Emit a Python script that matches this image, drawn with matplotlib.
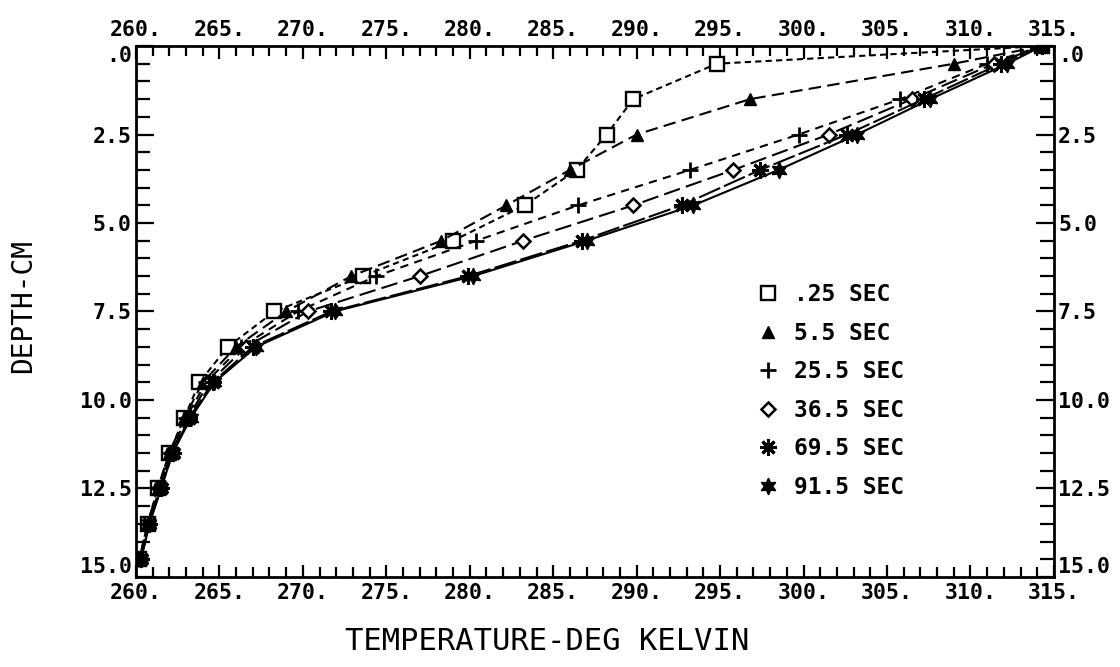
import matplotlib
matplotlib.use("Agg")
import matplotlib.pyplot as plt
from matplotlib.ticker import MultipleLocator, FixedLocator

# ---------------------------------------------------
# DATA
# ---------------------------------------------------
depth = [0.0, 0.5, 1.5, 2.5, 3.5, 4.5, 5.5, 6.5, 7.5,
         8.5, 9.5, 10.5, 11.5, 12.5, 13.5, 14.5]

t_025 = [314.3, 294.8, 289.8, 288.2, 286.4, 283.3, 279.0, 273.6, 268.3,
         265.5, 263.8, 262.9, 262.0, 261.3, 260.7, 260.2]
t_55 = [314.3, 309.0, 296.8, 290.0, 286.0, 282.2, 278.3, 272.9, 269.0,
        266.0, 264.0, 262.9, 262.0, 261.3, 260.7, 260.2]
t_255 = [314.3, 311.0, 305.8, 299.7, 293.2, 286.5, 280.4, 274.4, 269.7,
         266.3, 264.2, 263.0, 262.1, 261.4, 260.8, 260.2]
t_365 = [314.3, 311.4, 306.5, 301.5, 295.8, 289.8, 283.2, 277.0, 270.3,
         266.6, 264.4, 263.1, 262.1, 261.4, 260.8, 260.3]
t_695 = [314.3, 311.8, 307.2, 302.6, 297.4, 292.7, 286.7, 279.9, 271.7,
         267.0, 264.6, 263.2, 262.2, 261.5, 260.8, 260.3]
t_915 = [314.3, 312.2, 307.6, 303.2, 298.5, 293.4, 287.0, 280.2, 271.9,
         267.2, 264.7, 263.3, 262.2, 261.5, 260.8, 260.3]

labels = [".25 SEC", "5.5 SEC", "25.5 SEC", "36.5 SEC", "69.5 SEC", "91.5 SEC"]

x_ticks = [260, 265, 270, 275, 280, 285, 290, 295, 300, 305, 310, 315]
x_tick_labels = ["260.", "265.", "270.", "275.", "280.", "285.",
                 "290.", "295.", "300.", "305.", "310.", "315."]
y_ticks = [0.0, 2.5, 5.0, 7.5, 10.0, 12.5, 15.0]
y_tick_labels = [".0", "2.5", "5.0", "7.5", "10.0", "12.5", "15.0"]

# ---------------------------------------------------
# STYLE
# ---------------------------------------------------
MONO = "DejaVu Sans Mono"

series = [
    (t_025, "s", (0, (3, 2)), dict(mfc="white", ms=10, mew=1.7)),
    (t_55, "^", (0, (6, 3)), dict(mfc="black", ms=9, mew=1.0)),
    (t_255, "+", (0, (4, 3)), dict(mfc="black", ms=12, mew=2.0)),
    (t_365, "D", (0, (8, 3)), dict(mfc="white", ms=7, mew=1.8)),
    (t_695, (8, 2, 0), (0, (11, 2)), dict(mfc="black", ms=12, mew=2.2)),
    (t_915, (6, 1, 0), "-", dict(mfc="black", ms=12, mew=1.0)),
]

# ---------------------------------------------------
# FIGURE
# ---------------------------------------------------
fig = plt.figure(figsize=(11.2, 6.67), dpi=100)
ax = fig.add_axes([0.1214, 0.135, 0.8196, 0.796])

for (temps, mk, ls, kw), lab in zip(series, labels):
    ax.plot(temps, depth, color="black", lw=1.5, linestyle=ls,
            marker=mk, mec="black", label=lab, **kw)

# ---------------------------------------------------
# AXES
# ---------------------------------------------------
ax.set_xlim(260, 315)
ax.set_ylim(15, 0)

ax.xaxis.set_major_locator(FixedLocator(x_ticks))
ax.xaxis.set_minor_locator(MultipleLocator(1))
ax.yaxis.set_major_locator(FixedLocator(y_ticks))
ax.yaxis.set_minor_locator(MultipleLocator(0.5))

ax.set_xticklabels(x_tick_labels)
ax.set_yticklabels(y_tick_labels)

ax.tick_params(axis="x", which="both", direction="in", top=True, bottom=True,
               labeltop=True, labelbottom=True, width=1.6)
ax.tick_params(axis="x", which="major", length=9, pad=4)
ax.tick_params(axis="x", which="minor", length=7)
ax.tick_params(axis="y", which="both", direction="in", left=True, right=True,
               labelleft=True, labelright=True, width=1.6)
ax.tick_params(axis="y", which="major", length=13, pad=3)
ax.tick_params(axis="y", which="minor", length=10)

for tick in ax.xaxis.get_major_ticks() + ax.yaxis.get_major_ticks():
    for lab in (tick.label1, tick.label2):
        lab.set_fontfamily(MONO)
        lab.set_fontweight("bold")
        lab.set_fontsize(15.5)

# corner labels nudged so they do not sit on the x labels
yt = ax.yaxis.get_major_ticks()
for lab in (yt[0].label1, yt[0].label2):
    lab.set_verticalalignment("top")
for lab in (yt[-1].label1, yt[-1].label2):
    lab.set_verticalalignment("bottom")

for sp in ax.spines.values():
    sp.set_linewidth(2.0)

ax.set_xlabel("TEMPERATURE-DEG KELVIN", fontsize=22, family=MONO)
ax.xaxis.set_label_coords(0.448, -0.094)
ax.set_ylabel("DEPTH-CM", fontsize=20, family=MONO)
ax.yaxis.set_label_coords(-0.108, 0.51)

# ---------------------------------------------------
# LEGEND
# ---------------------------------------------------
leg = ax.legend(loc="upper left", bbox_to_anchor=(0.654, 0.592),
                frameon=False, handlelength=1.0, handletextpad=0.6,
                labelspacing=0.675,
                prop=dict(family=MONO, weight="bold", size=16.5))
for h in leg.legend_handles:
    h.set_linestyle("None")

fig.savefig("out.png", dpi=100, facecolor="white")
